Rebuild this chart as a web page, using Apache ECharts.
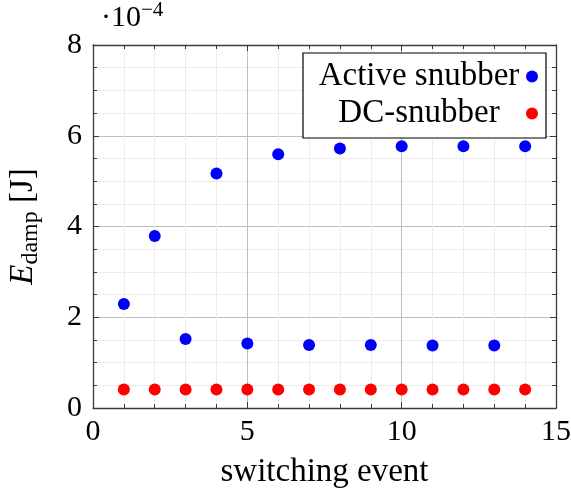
<!DOCTYPE html>
<html>
<head>
<meta charset="utf-8">
<script src="https://cdn.jsdelivr.net/npm/echarts@6/dist/echarts.min.js"></script>
<style>
  html, body { margin: 0; padding: 0; background: #fff; }
  #chart { width: 571px; height: 490px; }
</style>
</head>
<body>
<div id="chart"></div>
<script>
// Damping energy per switching event, in units of 1e-4 J
const switchingEvents = [1, 2, 3, 4, 5, 6, 7, 8, 9, 10, 11, 12, 13, 14];
const activeSnubber = [2.29, 3.79, 1.52, 5.17, 1.42, 5.59, 1.39, 5.72, 1.39, 5.77, 1.38, 5.77, 1.38, 5.77];
const dcSnubber = [0.41, 0.41, 0.41, 0.41, 0.41, 0.41, 0.41, 0.41, 0.41, 0.41, 0.41, 0.41, 0.41, 0.41];
const seriesNames = ['Active snubber', 'DC-snubber'];
const xTicks = [0, 5, 10, 15];
const yTicks = [0, 2, 4, 6, 8];

const FONT = "'Liberation Serif', 'DejaVu Serif', serif";
const AXIS_COLOR = '#3a3a3a';
const TICK_FS = 30;
const TITLE_FS = 33;

const pair = (xs, ys) => xs.map((x, i) => [x, ys[i]]);

const tickBase = {
  axisLine: { show: true, onZero: false, lineStyle: { color: AXIS_COLOR, width: 1.3 } },
  axisTick: { show: true, inside: true, length: 6, lineStyle: { color: AXIS_COLOR, width: 1 } },
  minorTick: { show: true, length: 4, lineStyle: { color: AXIS_COLOR, width: 1 } }
};

const chart = echarts.init(document.getElementById('chart'), null, { renderer: 'canvas' });

chart.setOption({
  backgroundColor: '#ffffff',
  animation: false,
  textStyle: { fontFamily: FONT },
  grid: { left: 93, right: 15, top: 45, bottom: 82, containLabel: false, outerBoundsMode: 'none' },
  xAxis: [
    Object.assign({}, tickBase, {
      type: 'value', min: xTicks[0], max: xTicks[xTicks.length - 1], interval: 5,
      position: 'bottom',
      minorTick: Object.assign({}, tickBase.minorTick, { splitNumber: 5 }),
      axisLabel: { color: '#000', fontFamily: FONT, fontSize: TICK_FS, margin: 9 },
      splitLine: { show: true, lineStyle: { color: '#bfbfbf', width: 1 } },
      minorSplitLine: { show: true, lineStyle: { color: '#ececec', width: 1 } },
      name: 'switching event', nameLocation: 'middle', nameGap: 48,
      nameTextStyle: { color: '#000', fontFamily: FONT, fontSize: TITLE_FS }
    }),
    Object.assign({}, tickBase, {
      type: 'value', min: xTicks[0], max: xTicks[xTicks.length - 1], interval: 5,
      position: 'top',
      minorTick: Object.assign({}, tickBase.minorTick, { splitNumber: 5 }),
      axisLabel: { show: false }, splitLine: { show: false }
    })
  ],
  yAxis: [
    Object.assign({}, tickBase, {
      type: 'value', min: yTicks[0], max: yTicks[yTicks.length - 1], interval: 2,
      position: 'left',
      minorTick: Object.assign({}, tickBase.minorTick, { splitNumber: 4 }),
      axisLabel: { color: '#000', fontFamily: FONT, fontSize: TICK_FS, margin: 11 },
      splitLine: { show: true, lineStyle: { color: '#bfbfbf', width: 1 } },
      minorSplitLine: { show: true, lineStyle: { color: '#ececec', width: 1 } },
      name: '{e|E}{s|damp}{n| [J]}', nameLocation: 'middle', nameGap: 50, nameRotate: 90,
      nameTextStyle: {
        color: '#000', fontFamily: FONT, fontSize: TITLE_FS,
        rich: {
          e: { fontFamily: FONT, fontSize: TITLE_FS, fontStyle: 'italic', color: '#000' },
          s: { fontFamily: FONT, fontSize: 24, color: '#000', padding: [15, 0, 0, 0] },
          n: { fontFamily: FONT, fontSize: TITLE_FS, color: '#000' }
        }
      }
    }),
    Object.assign({}, tickBase, {
      type: 'value', min: yTicks[0], max: yTicks[yTicks.length - 1], interval: 2,
      position: 'right',
      minorTick: Object.assign({}, tickBase.minorTick, { splitNumber: 4 }),
      axisLabel: { show: false }, splitLine: { show: false }
    })
  ],
  legend: {
    orient: 'vertical', right: 25, top: 53, align: 'right',
    itemWidth: 12, itemHeight: 12, itemGap: 4,
    padding: [7, 8, 8, 14],
    backgroundColor: '#ffffff', borderColor: '#000', borderWidth: 1.2,
    data: seriesNames.map(n => ({ name: n, icon: 'circle' })),
    formatter: n => '{t|' + n + '}',
    textStyle: {
      color: '#000', fontFamily: FONT, fontSize: TITLE_FS,
      rich: { t: { width: 204, align: 'center', fontFamily: FONT, fontSize: TITLE_FS, color: '#000', lineHeight: 28 } }
    }
  },
  graphic: [{
    type: 'text', left: 101, top: 0,
    style: {
      text: '{d|·}{b|10}{p|−4}',
      rich: {
        d: { fontFamily: FONT, fontSize: TICK_FS, fill: '#000' },
        b: { fontFamily: FONT, fontSize: TICK_FS, fill: '#000' },
        p: { fontFamily: FONT, fontSize: 21, fill: '#000', padding: [0, 0, 15, 0] }
      }
    }
  }],
  series: [
    {
      name: seriesNames[0], type: 'scatter', xAxisIndex: 0, yAxisIndex: 0,
      symbol: 'circle', symbolSize: 12, itemStyle: { color: '#0000ff', opacity: 1 },
      data: pair(switchingEvents, activeSnubber), z: 5
    },
    {
      name: seriesNames[1], type: 'scatter', xAxisIndex: 0, yAxisIndex: 0,
      symbol: 'circle', symbolSize: 12, itemStyle: { color: '#ff0000', opacity: 1 },
      data: pair(switchingEvents, dcSnubber), z: 5
    }
  ]
});
</script>
</body>
</html>
